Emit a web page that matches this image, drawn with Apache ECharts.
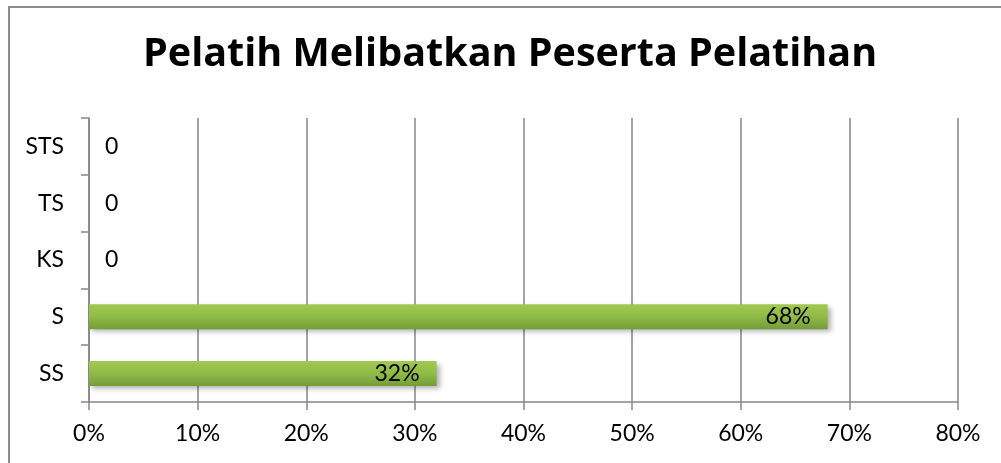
<!DOCTYPE html>
<html>
<head>
<meta charset="utf-8">
<script src="https://cdn.jsdelivr.net/npm/echarts@6/dist/echarts.min.js"></script>
<style>
  html, body { margin: 0; padding: 0; background: #fff; }
  #chart { width: 1001px; height: 463px; }
</style>
</head>
<body>
<div id="chart"></div>
<script>
var categories = ['SS', 'S', 'KS', 'TS', 'STS'];
var values = [32, 68, 0, 0, 0];
var xTicks = [0, 10, 20, 30, 40, 50, 60, 70, 80];

window.onload = function () {
  var myChart = echarts.init(document.getElementById('chart'));

  var barData = values.map(function (v) {
    if (v === 0) {
      return { value: v, label: { show: true, position: 'right', distance: 16, formatter: '0' } };
    }
    return { value: v, label: { show: true, position: 'insideRight', distance: 17, formatter: '{c}%' } };
  });

  var option = {
    backgroundColor: '#fff',
    textStyle: { fontFamily: 'Lato' },
    title: {
      text: 'Pelatih Melibatkan Peserta Pelatihan',
      left: 138,
      top: 30,
      textStyle: { fontFamily: 'Open Sans', fontWeight: 'bold', fontSize: 39.5, color: '#000' }
    },
    graphic: [{
      type: 'rect',
      shape: { x: 9, y: 7, width: 1100, height: 600 },
      style: { fill: 'none', stroke: '#8c8c8c', lineWidth: 2 },
      silent: true
    }],
    grid: { left: 89, right: 43, top: 118, bottom: 61 },
    xAxis: {
      type: 'value',
      min: xTicks[0],
      max: xTicks[xTicks.length - 1],
      interval: 10,
      axisLine: { show: true, lineStyle: { color: '#868686', width: 1.5 } },
      axisTick: { show: true, length: 8, lineStyle: { color: '#868686', width: 1.5 } },
      splitLine: { show: true, lineStyle: { color: '#868686', width: 1.5 } },
      axisLabel: { formatter: '{value}%', color: '#000', fontSize: 23, margin: 20 }
    },
    yAxis: {
      type: 'category',
      data: categories,
      axisLine: { show: true, lineStyle: { color: '#868686', width: 1.5 } },
      axisTick: { show: true, length: 8, lineStyle: { color: '#868686', width: 1.5 } },
      axisLabel: { color: '#000', fontSize: 23, margin: 25 }
    },
    series: [{
      type: 'bar',
      data: barData,
      barWidth: 25,
      label: { color: '#000', fontSize: 23, fontFamily: 'Lato' },
      itemStyle: {
        color: new echarts.graphic.LinearGradient(0, 0, 0, 1, [
          { offset: 0, color: '#a0c94f' },
          { offset: 0.5, color: '#8fbb47' },
          { offset: 1, color: '#749c38' }
        ]),
        shadowBlur: 5,
        shadowOffsetX: 3,
        shadowOffsetY: 3,
        shadowColor: 'rgba(0,0,0,0.3)'
      }
    }]
  };
  myChart.setOption(option);
};
</script>
</body>
</html>
